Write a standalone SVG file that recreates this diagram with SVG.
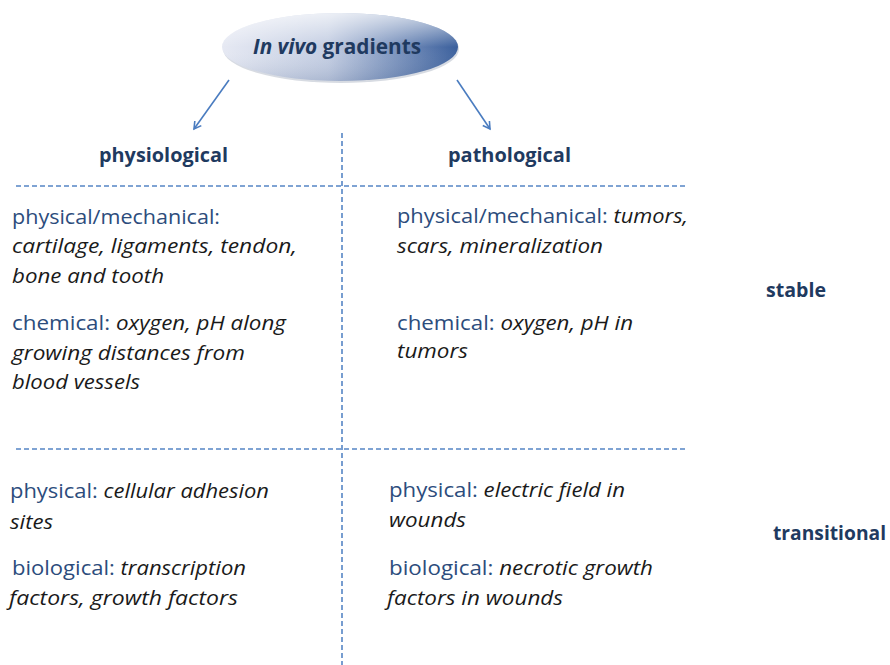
<svg xmlns="http://www.w3.org/2000/svg" width="890" height="665" viewBox="0 0 890 665">
<style>
.t{font-family:"Open Sans","Noto Sans","Liberation Sans",sans-serif;font-size:19.5px;fill:#1a1a1a}
.k{fill:#2c4c7c;font-style:normal}
.i{font-style:italic}
.h{font-family:"Open Sans","Noto Sans","Liberation Sans",sans-serif;font-size:19px;font-weight:bold;fill:#1f3a60}
.d{stroke:#5585c5;stroke-width:1.6;stroke-dasharray:5 3;fill:none}
.a{stroke:#4a7cc0;stroke-width:1.6;fill:none}
</style>
<defs>
<linearGradient id="g" x1="0" y1="0" x2="1" y2="0">
<stop offset="0" stop-color="#e6e9f3"/>
<stop offset="0.45" stop-color="#c3cde2"/>
<stop offset="1" stop-color="#3a5f9c"/>
</linearGradient>
<linearGradient id="gs" x1="0" y1="0" x2="0" y2="1">
<stop offset="0" stop-color="#ffffff" stop-opacity="0.7"/>
<stop offset="0.5" stop-color="#ffffff" stop-opacity="0"/>
<stop offset="1" stop-color="#1e3c6e" stop-opacity="0.15"/>
</linearGradient>
<marker id="m" markerWidth="10" markerHeight="10" refX="8" refY="5" orient="auto" markerUnits="userSpaceOnUse">
<path d="M1,1 L8,5 L1,9" fill="none" stroke="#4a7cc0" stroke-width="1.6"/>
</marker>
</defs>
<rect width="890" height="665" fill="#ffffff"/>
<g id="root">
<ellipse cx="341" cy="49" rx="118" ry="34" fill="#8c98ad" opacity="0.35"/>
<ellipse cx="340" cy="47" rx="118" ry="34" fill="url(#g)"/>
<ellipse cx="340" cy="47" rx="118" ry="34" fill="url(#gs)"/>
<text x="253" y="54" textLength="168" lengthAdjust="spacingAndGlyphs" font-family="'Open Sans','Noto Sans','Liberation Sans',sans-serif" font-size="21" font-weight="bold" fill="#1f3a60"><tspan font-style="italic">In vivo</tspan> gradients</text>
</g>
<g id="connectors">
<line class="a" x1="229" y1="80" x2="194" y2="129" marker-end="url(#m)"/>
<line class="a" x1="457" y1="80" x2="490" y2="129" marker-end="url(#m)"/>
<line class="d" x1="342" y1="133" x2="342" y2="665"/>
<line class="d" x1="16" y1="186" x2="688" y2="186"/>
<line class="d" x1="16" y1="449" x2="688" y2="449"/>
</g>
<g id="headers">
<text class="h" x="99" y="162" textLength="129" lengthAdjust="spacingAndGlyphs">physiological</text>
<text class="h" x="448" y="162" textLength="123" lengthAdjust="spacingAndGlyphs">pathological</text>
<text class="h" x="766" y="297" textLength="60" lengthAdjust="spacingAndGlyphs">stable</text>
<text class="h" x="773" y="540" textLength="113" lengthAdjust="spacingAndGlyphs">transitional</text>
</g>
<g id="physio-stable">
<text class="t" x="12" y="224" textLength="208" lengthAdjust="spacingAndGlyphs"><tspan class="k">physical/mechanical:</tspan></text>
<text class="t i" x="12" y="253" textLength="285" lengthAdjust="spacingAndGlyphs">cartilage, ligaments, tendon,</text>
<text class="t i" x="12" y="283" textLength="152" lengthAdjust="spacingAndGlyphs">bone and tooth</text>
<text class="t" x="12" y="330" textLength="274" lengthAdjust="spacingAndGlyphs"><tspan class="k">chemical:</tspan><tspan class="i"> oxygen, pH along</tspan></text>
<text class="t i" x="12" y="360" textLength="233" lengthAdjust="spacingAndGlyphs">growing distances from</text>
<text class="t i" x="12" y="389" textLength="128" lengthAdjust="spacingAndGlyphs">blood vessels</text>
</g>
<g id="patho-stable">
<text class="t" x="397" y="223" textLength="291" lengthAdjust="spacingAndGlyphs"><tspan class="k">physical/mechanical:</tspan><tspan class="i"> tumors,</tspan></text>
<text class="t i" x="397" y="253" textLength="206" lengthAdjust="spacingAndGlyphs">scars, mineralization</text>
<text class="t" x="397" y="330" textLength="236" lengthAdjust="spacingAndGlyphs"><tspan class="k">chemical:</tspan><tspan class="i"> oxygen, pH in</tspan></text>
<text class="t i" x="397" y="358" textLength="71" lengthAdjust="spacingAndGlyphs">tumors</text>
</g>
<g id="physio-trans">
<text class="t" x="10" y="498" textLength="259" lengthAdjust="spacingAndGlyphs"><tspan class="k">physical:</tspan><tspan class="i"> cellular adhesion</tspan></text>
<text class="t i" x="10" y="529" textLength="43" lengthAdjust="spacingAndGlyphs">sites</text>
<text class="t" x="12" y="575" textLength="234" lengthAdjust="spacingAndGlyphs"><tspan class="k">biological:</tspan><tspan class="i"> transcription</tspan></text>
<text class="t i" x="9" y="605" textLength="229" lengthAdjust="spacingAndGlyphs">factors, growth factors</text>
</g>
<g id="patho-trans">
<text class="t" x="389" y="497" textLength="236" lengthAdjust="spacingAndGlyphs"><tspan class="k">physical:</tspan><tspan class="i"> electric field in</tspan></text>
<text class="t i" x="389" y="527" textLength="77" lengthAdjust="spacingAndGlyphs">wounds</text>
<text class="t" x="389" y="575" textLength="264" lengthAdjust="spacingAndGlyphs"><tspan class="k">biological:</tspan><tspan class="i"> necrotic growth</tspan></text>
<text class="t i" x="387" y="605" textLength="176" lengthAdjust="spacingAndGlyphs">factors in wounds</text>
</g>
</svg>
